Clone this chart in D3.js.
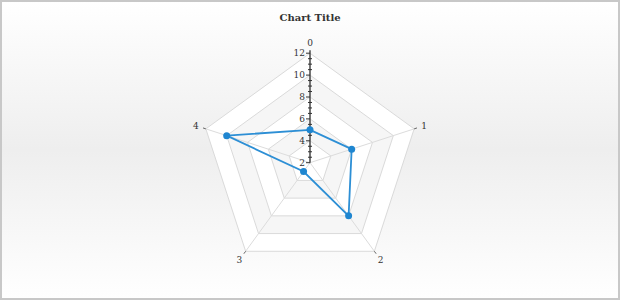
<!DOCTYPE html>
<meta charset="utf-8">
<style>
body { margin: 0; }
text { font-family: "DejaVu Serif", serif; fill: #333; }
</style>
<body>
<div id="chart"></div>
<script src="https://d3js.org/d3.v7.min.js"></script>
<script>

var width = 620,
    height = 300;

// data
var categories = ["0", "1", "2", "3", "4"];
var values = [5, 6, 8, 3, 10];
var radialTicks = [2, 4, 6, 8, 10, 12];
var title = "Chart Title";

var cx = 310, cy = 162.7;

var svg = d3.select("#chart").append("svg")
    .attr("width", width)
    .attr("height", height);

// background gradient
var grad = svg.append("defs").append("linearGradient")
    .attr("id", "bg")
    .attr("x1", 0).attr("y1", 0).attr("x2", 0).attr("y2", 1);
grad.append("stop").attr("offset", "0%").attr("stop-color", "#ffffff");
grad.append("stop").attr("offset", "50%").attr("stop-color", "#eeeeee");
grad.append("stop").attr("offset", "100%").attr("stop-color", "#ffffff");

svg.append("rect")
    .attr("x", 1).attr("y", 1)
    .attr("width", width - 2).attr("height", height - 2)
    .attr("fill", "url(#bg)")
    .attr("stroke", "#c8c8c8")
    .attr("stroke-width", 2);

svg.append("text")
    .attr("x", cx).attr("y", 21)
    .attr("text-anchor", "middle")
    .style("font-size", "10px")
    .style("font-weight", "bold")
    .text(title);

var r = d3.scaleLinear().domain([2, 12]).range([0, 109.5]);
var angle = d3.scalePoint().domain(categories).range([0, 2 * Math.PI * 4 / 5]);

var g = svg.append("g").attr("transform", "translate(" + cx + "," + cy + ")");

var ring = d3.lineRadial()
    .angle(function(d) { return angle(d); })
    .curve(d3.curveLinearClosed);

// grid bands, outer first
var rings = radialTicks.slice(1).reverse();
g.selectAll("path.ring")
    .data(rings)
    .enter().append("path")
    .attr("class", "ring")
    .attr("d", function(v) { return ring.radius(r(v))(categories); })
    .attr("fill", function(v, i) { return i % 2 === 0 ? "#ffffff" : "#f6f6f6"; })
    .attr("stroke", "#dadada")
    .attr("stroke-width", 1);

function px(c, rad) { return Math.sin(angle(c)) * rad; }
function py(c, rad) { return -Math.cos(angle(c)) * rad; }

// spokes
g.selectAll("line.spoke")
    .data(categories)
    .enter().append("line")
    .attr("x1", 0).attr("y1", 0)
    .attr("x2", function(c) { return px(c, r(12)); })
    .attr("y2", function(c) { return py(c, r(12)); })
    .attr("stroke", "#dcdcdc");

g.selectAll("line.spoketick")
    .data(categories.slice(1))
    .enter().append("line")
    .attr("x1", function(c) { return px(c, r(12)); })
    .attr("y1", function(c) { return py(c, r(12)); })
    .attr("x2", function(c) { return px(c, r(12) + 3); })
    .attr("y2", function(c) { return py(c, r(12) + 3); })
    .attr("stroke", "#666");

// category labels
g.selectAll("text.cat")
    .data(categories)
    .enter().append("text")
    .attr("x", function(c) { return px(c, 120); })
    .attr("y", function(c) { return py(c, 120); })
    .attr("dy", "0.35em")
    .attr("text-anchor", "middle")
    .style("font-size", "9px")
    .text(function(c) { return c; });

// radial axis on the first spoke
var axisG = g.append("g");
axisG.append("line")
    .attr("x1", 0).attr("x2", 0)
    .attr("y1", 0).attr("y2", -(r(12) + 3))
    .attr("stroke", "#333")
    .attr("stroke-width", 1.3);

var minor = d3.range(2, 12.01, 0.5).filter(function(v) { return v % 2 !== 0; });
axisG.selectAll("line.minor")
    .data(minor)
    .enter().append("line")
    .attr("x1", -2).attr("x2", 2)
    .attr("y1", function(v) { return -r(v); })
    .attr("y2", function(v) { return -r(v); })
    .attr("stroke", "#333");

axisG.selectAll("line.major")
    .data(radialTicks)
    .enter().append("line")
    .attr("x1", -4).attr("x2", 0)
    .attr("y1", function(v) { return -r(v); })
    .attr("y2", function(v) { return -r(v); })
    .attr("stroke", "#333");

axisG.selectAll("text.tick")
    .data(radialTicks)
    .enter().append("text")
    .attr("x", -5)
    .attr("y", function(v) { return -r(v); })
    .attr("dy", "0.35em")
    .attr("text-anchor", "end")
    .style("font-size", "9px")
    .text(function(v) { return v; });

// series
var line = d3.lineRadial()
    .angle(function(d, i) { return angle(categories[i]); })
    .radius(function(d) { return r(d); })
    .curve(d3.curveLinearClosed);

g.append("path")
    .attr("d", line(values))
    .attr("fill", "none")
    .attr("stroke", "#2d8fd5")
    .attr("stroke-width", 1.8);

g.selectAll("circle.pt")
    .data(values)
    .enter().append("circle")
    .attr("cx", function(d, i) { return px(categories[i], r(d)); })
    .attr("cy", function(d, i) { return py(categories[i], r(d)); })
    .attr("r", 3.5)
    .attr("fill", "#1f86d0");

</script>
